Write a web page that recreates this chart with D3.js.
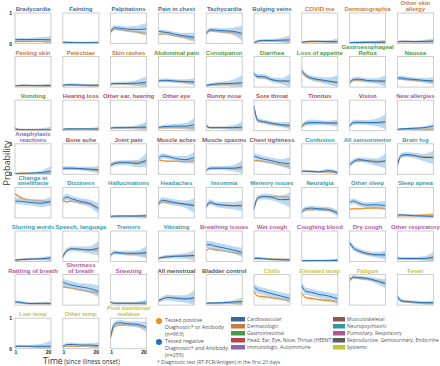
<!DOCTYPE html>
<html>
<head>
<meta charset="utf-8">
<script src="https://cdn.jsdelivr.net/npm/d3@7"></script>
<style>
  body { margin: 0; background: #fff; }
  svg { display: block; }
</style>
</head>
<body>
<svg width="440" height="366"></svg>
<script>
// 症状分组（颜色）
var groups = ["Cardiovascular", "Dermatologic", "Gastrointestinal", "Head, Ear, Eye, Nose, Throat (HEENT)",
              "Immunologic, Autoimmune", "Musculoskeletal", "Neuropsychiatric", "Pulmonary, Respiratory",
              "Reproductive, Genitourinary, Endocrine", "Systemic"];
var groupColors = ["#3a6a98", "#c97a40", "#4a9a45", "#b5434c", "#8a68ae", "#8a5850", "#3597a4", "#b0559c", "#5a5a5a", "#c2c232"];
var groupTitleColors = ["#3f6f9c", "#c77c45", "#4b9b48", "#b84a4f", "#8a6ab0", "#8a5a55", "#3a9aa8", "#b05a9c", "#555555", "#c5c53a"];

// 症状名称（\n 表示换行）
var symptoms = ["Bradycardia", "Fainting", "Palpitations", "Pain in chest", "Tachycardia", "Bulging veins", "COVID toe", "Dermatographia", "Other skin\nallergy",
  "Peeling skin", "Petechiae", "Skin rashes", "Abdominal pain", "Constipation", "Diarrhea", "Loss of appetite", "Gastroesophageal\nReflux", "Nausea",
  "Vomiting", "Hearing loss", "Other ear, hearing", "Other eye", "Runny nose", "Sore throat", "Tinnitus", "Vision", "New allergies",
  "Anaphylaxis\nreactions", "Bone ache", "Joint pain", "Muscle aches", "Muscle spasms", "Chest tightness", "Confusion", "All sensorimotor", "Brain fog",
  "Change in\nsmell/taste", "Dizziness", "Hallucinations", "Headaches", "Insomnia", "Memory issues", "Neuralgia", "Other sleep", "Sleep apnea",
  "Slurring words", "Speech, language", "Tremors", "Vibrating", "Breathing issues", "Wet cough", "Coughing blood", "Dry cough", "Other respiratory",
  "Rattling of breath", "Shortness\nof breath", "Sneezing", "All menstrual", "Bladder control", "Chills", "Elevated temp", "Fatigue", "Fever",
  "Low temp", "Other temp", "Post exertional\nmalaise"];
var symptomGroup = [0,0,0,0,0,0,1,1,1,
  1,1,1,2,2,2,2,2,2,
  2,3,3,3,3,3,3,3,4,
  4,5,5,5,5,5,6,6,6,
  6,6,6,6,6,6,6,6,6,
  6,6,6,6,7,7,7,7,7,
  7,7,7,8,8,9,9,9,9,
  9,9,9];

// 采样日
var days = [1, 3, 6, 10, 15, 20];

// 阳性组（橙色）概率
var posValues = [
  [0.06,0.07,0.07,0.07,0.07,0.06],[0.03,0.03,0.03,0.02,0.02,0.03],[0.38,0.47,0.45,0.42,0.38,0.32],[0.28,0.32,0.30,0.25,0.20,0.15],[0.30,0.42,0.40,0.38,0.35,0.28],[0.02,0.07,0.08,0.08,0.08,0.08],[0.04,0.05,0.06,0.06,0.06,0.05],[0.03,0.04,0.04,0.05,0.05,0.07],[0.05,0.06,0.06,0.06,0.06,0.06],
  [0.05,0.05,0.05,0.05,0.04,0.04],[0.04,0.06,0.06,0.06,0.05,0.05],[0.08,0.10,0.10,0.10,0.10,0.10],[0.20,0.20,0.20,0.18,0.17,0.15],[0.05,0.07,0.08,0.08,0.10,0.10],[0.42,0.32,0.30,0.25,0.20,0.18],[0.48,0.35,0.28,0.22,0.18,0.15],[0.12,0.22,0.22,0.20,0.20,0.17],[0.28,0.26,0.25,0.22,0.20,0.18],
  [0.10,0.04,0.03,0.03,0.03,0.02],[0.04,0.05,0.05,0.05,0.05,0.08],[0.08,0.09,0.09,0.10,0.10,0.10],[0.08,0.10,0.10,0.10,0.10,0.10],[0.20,0.10,0.10,0.10,0.10,0.10],[0.75,0.30,0.28,0.22,0.18,0.15],[0.12,0.22,0.25,0.25,0.25,0.25],[0.14,0.25,0.25,0.25,0.25,0.27],[0.04,0.05,0.05,0.05,0.05,0.05],
  [0.02,0.03,0.03,0.03,0.03,0.03],[0.18,0.18,0.18,0.17,0.15,0.12],[0.30,0.38,0.40,0.40,0.40,0.40],[0.48,0.45,0.43,0.43,0.42,0.45],[0.12,0.18,0.20,0.20,0.18,0.20],[0.45,0.45,0.42,0.38,0.32,0.25],[0.10,0.10,0.10,0.08,0.08,0.05],[0.30,0.40,0.45,0.45,0.43,0.42],[0.30,0.60,0.62,0.60,0.58,0.55],
  [0.80,0.70,0.62,0.58,0.55,0.50],[0.58,0.52,0.55,0.50,0.45,0.30],[0.04,0.05,0.06,0.06,0.06,0.05],[0.45,0.52,0.50,0.48,0.45,0.42],[0.38,0.48,0.45,0.42,0.40,0.40],[0.30,0.65,0.70,0.70,0.70,0.65],[0.20,0.25,0.27,0.27,0.25,0.15],[0.28,0.30,0.30,0.32,0.33,0.30],[0.06,0.07,0.07,0.08,0.09,0.10],
  [0.04,0.06,0.07,0.08,0.08,0.08],[0.15,0.35,0.40,0.40,0.38,0.38],[0.20,0.28,0.27,0.25,0.25,0.25],[0.10,0.15,0.17,0.18,0.18,0.18],[0.35,0.42,0.38,0.35,0.30,0.25],[0.12,0.12,0.10,0.08,0.07,0.05],[0.03,0.03,0.03,0.03,0.03,0.03],[0.60,0.45,0.32,0.25,0.22,0.20],[0.10,0.08,0.08,0.08,0.08,0.10],
  [0.10,0.08,0.06,0.05,0.05,0.05],[0.60,0.58,0.55,0.50,0.45,0.40],[0.10,0.06,0.06,0.06,0.06,0.06],[0.12,0.20,0.25,0.25,0.22,0.20],[0.05,0.06,0.06,0.07,0.07,0.07],[0.45,0.30,0.28,0.24,0.20,0.15],[0.40,0.25,0.22,0.18,0.15,0.10],[0.80,0.90,0.88,0.85,0.80,0.72],[0.30,0.12,0.10,0.08,0.06,0.05],
  [0.06,0.08,0.08,0.07,0.06,0.06],[0.05,0.08,0.08,0.08,0.08,0.07],[0.35,0.72,0.78,0.78,0.75,0.68]
];

// 阴性组（蓝色）概率
var negValues = [
  [0.12,0.13,0.13,0.13,0.13,0.12],[0.04,0.04,0.03,0.03,0.03,0.02],[0.38,0.52,0.50,0.47,0.46,0.48],[0.40,0.38,0.36,0.30,0.25,0.20],[0.32,0.45,0.44,0.42,0.40,0.33],[0.02,0.08,0.10,0.10,0.11,0.12],[0.04,0.06,0.07,0.07,0.06,0.06],[0.03,0.03,0.03,0.04,0.04,0.04],[0.05,0.07,0.07,0.06,0.07,0.08],
  [0.04,0.05,0.06,0.05,0.05,0.05],[0.05,0.08,0.08,0.07,0.06,0.06],[0.10,0.12,0.12,0.12,0.13,0.16],[0.20,0.22,0.22,0.20,0.18,0.17],[0.05,0.08,0.10,0.12,0.12,0.15],[0.45,0.35,0.35,0.25,0.20,0.20],[0.55,0.40,0.30,0.25,0.20,0.15],[0.15,0.25,0.26,0.22,0.20,0.20],[0.30,0.30,0.27,0.25,0.22,0.20],
  [0.05,0.04,0.03,0.03,0.03,0.03],[0.04,0.06,0.06,0.06,0.06,0.05],[0.08,0.10,0.10,0.10,0.11,0.12],[0.10,0.13,0.14,0.15,0.15,0.20],[0.15,0.10,0.10,0.10,0.10,0.12],[0.80,0.35,0.30,0.25,0.20,0.17],[0.15,0.25,0.27,0.27,0.25,0.25],[0.15,0.27,0.28,0.27,0.27,0.30],[0.04,0.06,0.07,0.08,0.10,0.15],
  [0.02,0.03,0.03,0.04,0.06,0.10],[0.20,0.20,0.20,0.19,0.17,0.15],[0.30,0.35,0.38,0.38,0.35,0.48],[0.52,0.60,0.58,0.52,0.48,0.55],[0.12,0.20,0.20,0.20,0.20,0.25],[0.60,0.55,0.50,0.45,0.38,0.35],[0.10,0.10,0.09,0.08,0.12,0.05],[0.30,0.42,0.48,0.45,0.40,0.45],[0.30,0.62,0.65,0.62,0.55,0.55],
  [0.55,0.55,0.53,0.50,0.48,0.55],[0.60,0.68,0.62,0.55,0.48,0.30],[0.05,0.06,0.06,0.06,0.06,0.07],[0.45,0.58,0.55,0.50,0.45,0.40],[0.35,0.52,0.45,0.42,0.40,0.40],[0.30,0.65,0.70,0.68,0.60,0.60],[0.20,0.30,0.32,0.30,0.28,0.15],[0.50,0.55,0.48,0.42,0.43,0.40],[0.10,0.10,0.09,0.07,0.06,0.05],
  [0.04,0.06,0.07,0.08,0.09,0.12],[0.15,0.35,0.42,0.40,0.38,0.45],[0.20,0.30,0.28,0.27,0.27,0.30],[0.10,0.13,0.15,0.17,0.18,0.20],[0.55,0.55,0.50,0.45,0.38,0.30],[0.10,0.10,0.09,0.07,0.06,0.05],[0.03,0.03,0.03,0.03,0.03,0.04],[0.62,0.45,0.35,0.27,0.22,0.22],[0.12,0.10,0.10,0.10,0.10,0.15],
  [0.10,0.10,0.07,0.05,0.06,0.05],[0.75,0.70,0.65,0.60,0.55,0.45],[0.10,0.06,0.06,0.06,0.06,0.08],[0.15,0.20,0.25,0.22,0.20,0.25],[0.05,0.07,0.07,0.08,0.10,0.12],[0.60,0.50,0.45,0.38,0.30,0.22],[0.65,0.45,0.42,0.35,0.30,0.20],[0.82,0.92,0.90,0.88,0.80,0.70],[0.28,0.15,0.12,0.10,0.08,0.08],
  [0.08,0.08,0.08,0.08,0.08,0.08],[0.08,0.13,0.14,0.12,0.12,0.10],[0.40,0.80,0.85,0.82,0.80,0.70]
];

// 阴性组置信区间半宽（随天数变宽）
var negBand = [
  [0.05,0.05,0.05,0.06,0.08,0.13],[0.03,0.03,0.03,0.03,0.03,0.04],[0.08,0.08,0.08,0.09,0.12,0.20],[0.07,0.07,0.07,0.08,0.10,0.15],[0.07,0.07,0.07,0.08,0.12,0.25],[0.03,0.04,0.05,0.05,0.07,0.15],[0.03,0.03,0.03,0.04,0.05,0.10],[0.02,0.02,0.02,0.03,0.03,0.04],[0.03,0.04,0.04,0.04,0.05,0.08],
  [0.03,0.03,0.03,0.03,0.04,0.06],[0.04,0.04,0.04,0.04,0.04,0.05],[0.05,0.05,0.05,0.06,0.10,0.20],[0.06,0.06,0.06,0.06,0.08,0.12],[0.04,0.05,0.06,0.07,0.12,0.25],[0.07,0.08,0.08,0.08,0.10,0.25],[0.08,0.08,0.08,0.09,0.12,0.25],[0.06,0.07,0.07,0.07,0.09,0.20],[0.07,0.07,0.07,0.07,0.08,0.12],
  [0.03,0.03,0.03,0.03,0.05,0.10],[0.03,0.03,0.03,0.03,0.03,0.04],[0.04,0.05,0.05,0.05,0.08,0.18],[0.05,0.06,0.06,0.07,0.10,0.22],[0.04,0.04,0.04,0.05,0.08,0.18],[0.08,0.08,0.07,0.07,0.08,0.12],[0.05,0.08,0.10,0.08,0.08,0.12],[0.06,0.08,0.08,0.08,0.12,0.25],[0.03,0.03,0.03,0.04,0.05,0.08],
  [0.02,0.02,0.02,0.03,0.06,0.18],[0.06,0.06,0.06,0.06,0.08,0.12],[0.08,0.08,0.08,0.08,0.12,0.25],[0.08,0.08,0.08,0.08,0.12,0.20],[0.06,0.06,0.06,0.07,0.10,0.22],[0.10,0.10,0.10,0.10,0.12,0.20],[0.04,0.04,0.04,0.04,0.05,0.05],[0.08,0.08,0.08,0.09,0.12,0.25],[0.08,0.08,0.08,0.09,0.12,0.22],
  [0.10,0.10,0.10,0.10,0.12,0.15],[0.10,0.10,0.10,0.10,0.12,0.18],[0.03,0.03,0.03,0.03,0.04,0.06],[0.10,0.10,0.10,0.10,0.12,0.25],[0.09,0.09,0.09,0.10,0.12,0.18],[0.09,0.09,0.09,0.10,0.12,0.25],[0.07,0.07,0.07,0.07,0.08,0.10],[0.09,0.09,0.09,0.09,0.10,0.15],[0.04,0.04,0.04,0.04,0.04,0.04],
  [0.03,0.03,0.04,0.04,0.05,0.08],[0.07,0.08,0.08,0.09,0.12,0.25],[0.07,0.07,0.07,0.08,0.10,0.20],[0.05,0.05,0.06,0.07,0.09,0.18],[0.12,0.12,0.12,0.12,0.12,0.15],[0.04,0.04,0.04,0.04,0.04,0.05],[0.02,0.02,0.02,0.02,0.03,0.06],[0.09,0.09,0.08,0.08,0.09,0.15],[0.05,0.05,0.05,0.05,0.07,0.18],
  [0.05,0.05,0.04,0.04,0.04,0.05],[0.12,0.12,0.12,0.12,0.15,0.20],[0.04,0.04,0.04,0.04,0.05,0.10],[0.06,0.08,0.10,0.10,0.12,0.25],[0.03,0.03,0.04,0.04,0.06,0.12],[0.12,0.12,0.12,0.12,0.12,0.15],[0.12,0.12,0.12,0.12,0.12,0.16],[0.06,0.06,0.06,0.07,0.09,0.15],[0.08,0.06,0.05,0.05,0.05,0.06],
  [0.04,0.04,0.04,0.05,0.08,0.20],[0.05,0.06,0.06,0.06,0.07,0.10],[0.10,0.10,0.09,0.09,0.10,0.18]
];

// 阳性组置信区间半宽（样本多，较窄）
var posBand = [0.02, 0.025, 0.035, 0.03, 0.04, 0.06];

var legendLabels = ["Tested positive", "Diagnostic* or Antibody", "(n=963)", "Tested negative", "Diagnostic* and Antibody", "(n=255)"];
var footnote = "* Diagnostic test (RT-PCR/Antigen) in the first 20 days";

var svg = d3.select("svg");
var font = "'Liberation Sans', Arial, sans-serif";
var font2 = "'Open Sans', 'Noto Sans', sans-serif";

var nCols = 9, colStep = 47.8, rowStep = 43.6, left0 = 15, top0 = 13, pw = 36, ph = 30.5;
var orange = "#f28a1e", blue = "#2470b5";

symptoms.forEach(function(name, i) {
    var col = i % nCols, row = Math.floor(i / nCols);
    var gx = left0 + col * colStep, gy = top0 + row * rowStep;
    var g = svg.append("g").attr("transform", "translate(" + gx + "," + gy + ")");

    var x = d3.scaleLinear().domain([1, 20]).range([0, pw]);
    var y = d3.scaleLinear().domain([0, 1]).range([ph, 0]).clamp(true);

    var pos = days.map(function(d, k) { return {d: d, v: posValues[i][k], w: posBand[k]}; });
    var neg = days.map(function(d, k) { return {d: d, v: negValues[i][k], w: negBand[i][k]}; });

    var area = d3.area().curve(d3.curveMonotoneX)
        .x(function(d) { return x(d.d); })
        .y0(function(d) { return y(Math.max(0, d.v - d.w)); })
        .y1(function(d) { return y(Math.min(1, d.v + d.w)); });
    var line = d3.line().curve(d3.curveMonotoneX)
        .x(function(d) { return x(d.d); })
        .y(function(d) { return y(d.v); });

    g.append("path").datum(pos).attr("d", area).attr("fill", "#f9c795").attr("opacity", 0.8);
    g.append("path").datum(pos).attr("d", line).attr("fill", "none").attr("stroke", orange).attr("stroke-width", 1.1);
    g.append("path").datum(neg).attr("d", area).attr("fill", "#8fc0e8").attr("opacity", 0.6);
    g.append("path").datum(neg).attr("d", line).attr("fill", "none").attr("stroke", blue).attr("stroke-width", 1);

    g.append("rect").attr("x", 0).attr("y", 0).attr("width", pw).attr("height", ph)
        .attr("fill", "none").attr("stroke", "#c6c6c6").attr("stroke-width", 0.9);

    // 标题
    var lines = name.split("\n");
    lines.forEach(function(t, k) {
        g.append("text")
            .attr("x", pw / 2)
            .attr("y", -2.1 - (lines.length - 1 - k) * 5.8)
            .attr("text-anchor", "middle")
            .attr("font-family", font)
            .attr("font-weight", "bold")
            .attr("font-size", 6)
            .attr("fill", groupTitleColors[symptomGroup[i]])
            .text(t);
    });

    // y 轴刻度（第一列部分面板）
    if (col == 0 && (row == 0 || row == 3 || row == 7)) {
        [0, 1].forEach(function(v) {
            g.append("text").attr("x", -3).attr("y", y(v) + 2)
                .attr("text-anchor", "end").attr("font-family", font).attr("font-weight", "bold")
                .attr("font-size", 5).attr("fill", "#222").text(v);
        });
    }
    // x 轴刻度（最后一行）
    if (row == 7) {
        g.append("text").attr("x", x(1) + 1).attr("y", ph + 5.8)
            .attr("text-anchor", "middle").attr("font-family", font).attr("font-weight", "bold")
            .attr("font-size", 5).attr("fill", "#222").text(1);
        g.append("text").attr("x", x(20) - 2.5).attr("y", ph + 5.8)
            .attr("text-anchor", "middle").attr("font-family", font).attr("font-weight", "bold")
            .attr("font-size", 5).attr("fill", "#222").text(20);
    }
});

// 轴标题
svg.append("text")
    .attr("transform", "translate(9.5,163) rotate(-90)")
    .attr("text-anchor", "middle")
    .attr("font-family", font2).attr("font-size", 9).attr("fill", "#333")
    .text("Probability");

var tt = svg.append("text").attr("x", 43).attr("y", 363.8).attr("font-family", font2).attr("fill", "#333");
tt.append("tspan").attr("font-size", 8.6).text("Time");
tt.append("tspan").attr("font-size", 6.2).text(" (since illness onset)");

// 阳性/阴性图例
[[orange, 321], [blue, 342]].forEach(function(p) {
    svg.append("circle").attr("cx", 159).attr("cy", p[1]).attr("r", 3).attr("fill", p[0]);
});
legendLabels.forEach(function(t, k) {
    svg.append("text").attr("x", 165).attr("y", 321.5 + k * 7)
        .attr("font-family", font2).attr("font-size", 5.3).attr("fill", "#555").text(t);
});
svg.append("text").attr("x", 157).attr("y", 363.5)
    .attr("font-family", font2).attr("font-size", 5).attr("fill", "#555").text(footnote);

// 分组图例
groups.forEach(function(gname, k) {
    var c = Math.floor(k / 5), r = k % 5;
    var lx = c == 0 ? 231 : 333, ly = 317 + r * 7;
    svg.append("rect").attr("x", lx).attr("y", ly).attr("width", c == 0 ? 14 : 12).attr("height", 4.5)
        .attr("fill", groupColors[k]);
    svg.append("text").attr("x", lx + (c == 0 ? 16 : 14)).attr("y", ly + 4.2)
        .attr("font-family", font2).attr("font-size", 5).attr("fill", "#555").text(gname);
});
</script>
</body>
</html>
